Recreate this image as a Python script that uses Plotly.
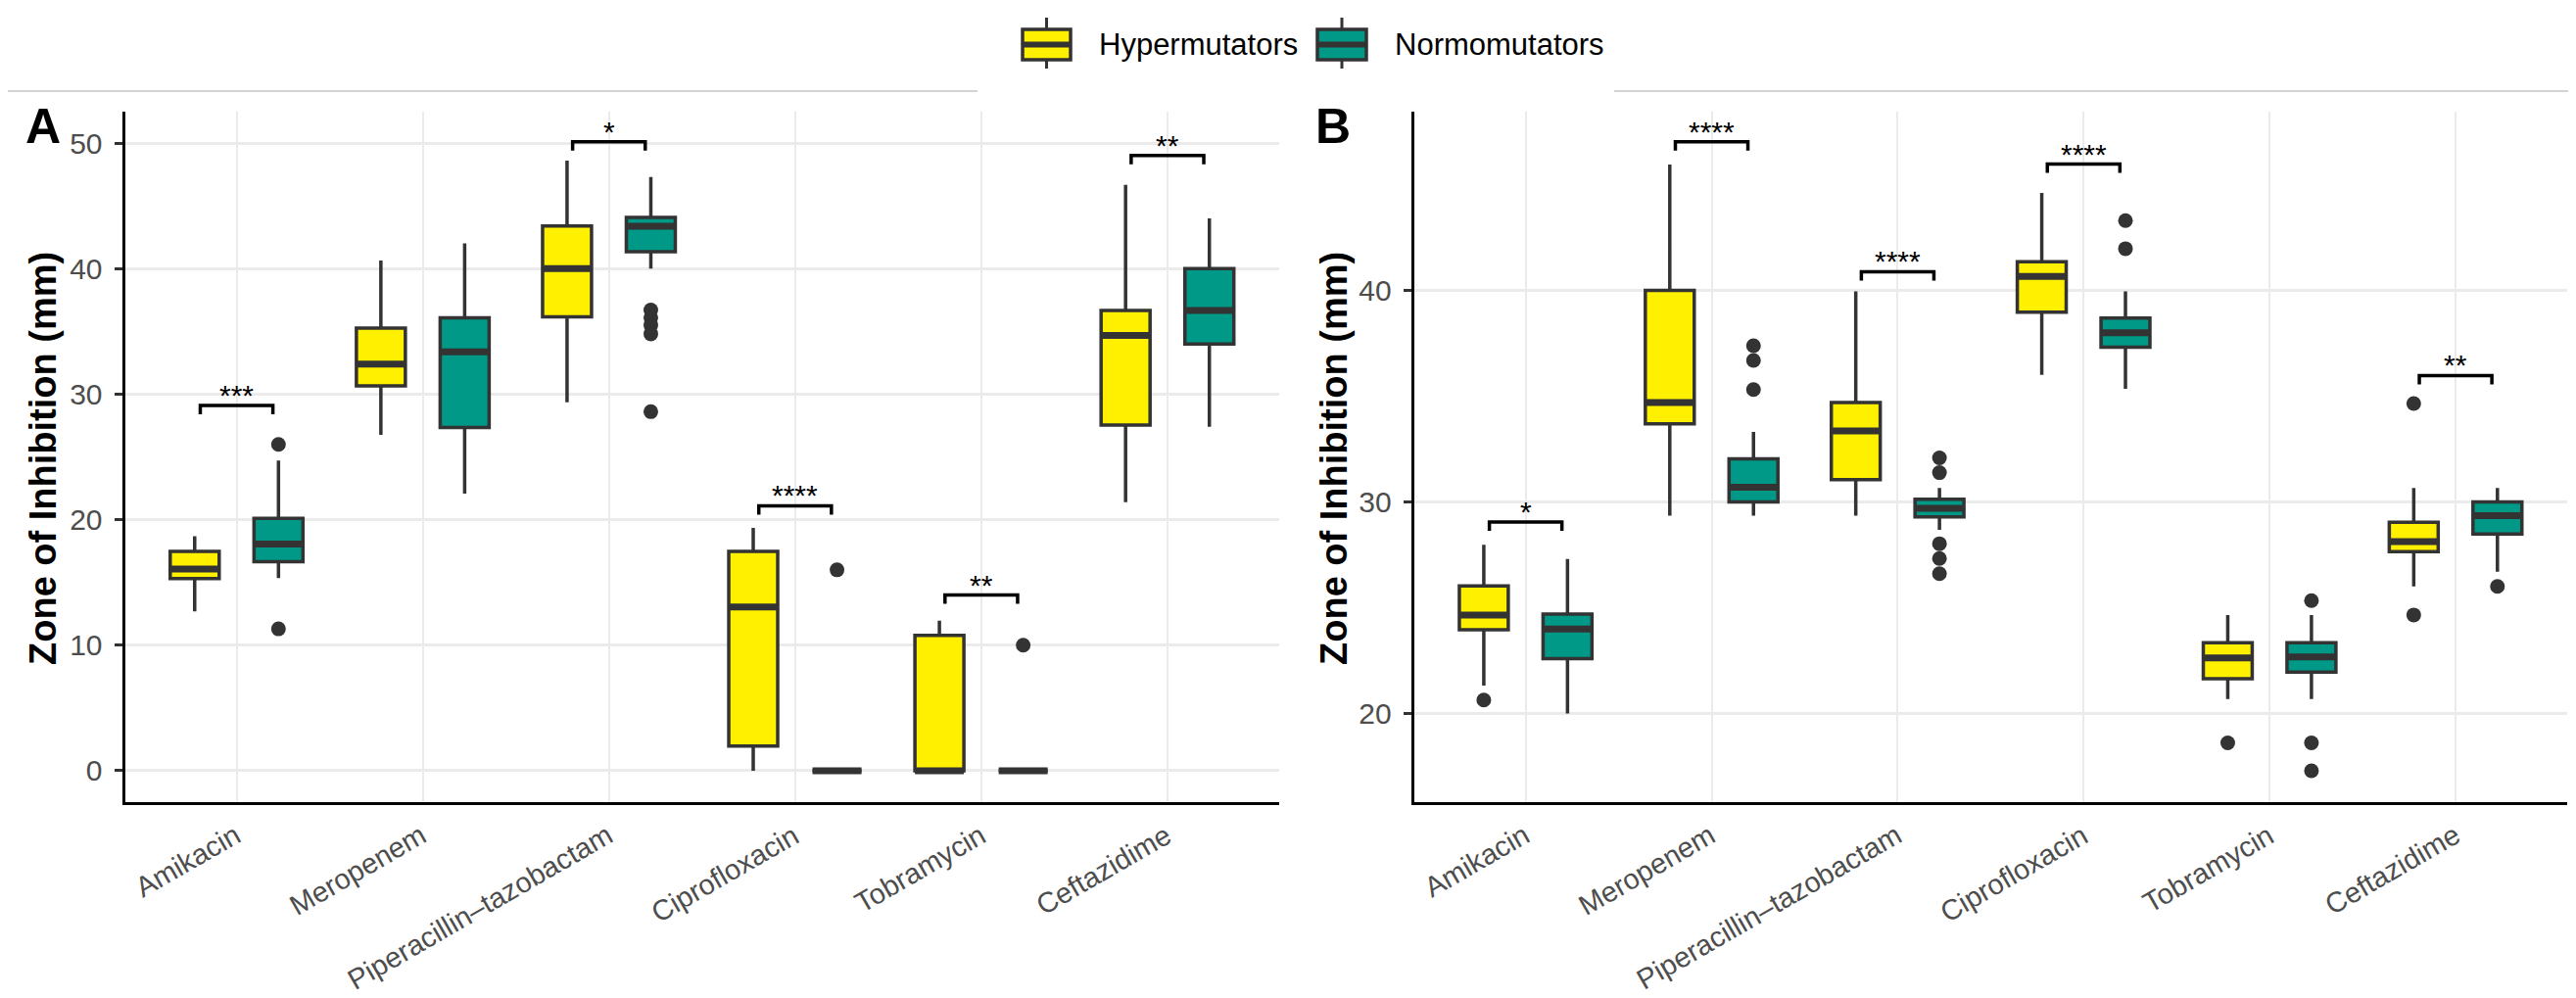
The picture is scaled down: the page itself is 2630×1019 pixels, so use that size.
import plotly.graph_objects as go

# ---------------- data ----------------
categories = ["Amikacin", "Meropenem", "Piperacillin–tazobactam",
              "Ciprofloxacin", "Tobramycin", "Ceftazidime"]
groups = ["Hypermutators", "Normomutators"]

# Panel A (box statistics per drug)
a_hyper_low = [12.7, 26.75, 29.34, 0.0, 0.0, 21.4]
a_hyper_q1 = [15.3, 30.66, 36.16, 1.97, 0.0, 27.53]
a_hyper_med = [16.07, 32.4, 40.0, 13.04, 0.0, 34.68]
a_hyper_q3 = [17.47, 35.25, 43.4, 17.47, 10.78, 36.67]
a_hyper_up = [18.68, 40.64, 48.6, 19.35, 11.96, 46.66]
a_hyper_out = [[], [], [], [], [], []]

a_normo_low = [15.35, 22.07, 40.0, 0.0, 0.0, 27.4]
a_normo_q1 = [16.66, 27.35, 41.35, 0.0, 0.0, 34.0]
a_normo_med = [18.06, 33.36, 43.37, 0.0, 0.0, 36.67]
a_normo_q3 = [20.1, 36.08, 44.07, 0.0, 0.0, 40.0]
a_normo_up = [24.7, 42.0, 47.3, 0.0, 0.0, 44.0]
a_normo_out = [[26.0, 11.3], [], [36.7, 36.1, 35.5, 34.8, 28.6], [16.0], [10.0], []]

a_sig_labels = ["***", "", "*", "****", "**", "**"]
a_sig_y = [29.1, None, 50.1, 21.1, 14.0, 49.0]

# Panel B
b_hyper_low = [21.31, 29.35, 29.35, 36.0, 20.68, 26.0]
b_hyper_q1 = [23.95, 33.69, 31.05, 38.97, 21.63, 27.65]
b_hyper_med = [24.65, 34.69, 33.35, 40.66, 22.62, 28.12]
b_hyper_q3 = [26.02, 40.0, 34.69, 41.35, 23.34, 29.03]
b_hyper_up = [27.97, 45.95, 39.95, 44.61, 24.65, 30.65]
b_hyper_out = [[20.63], [], [], [], [18.6], [34.65, 24.65]]

b_normo_low = [19.99, 29.35, 28.68, 35.34, 20.68, 26.69]
b_normo_q1 = [22.59, 30.0, 29.29, 37.31, 21.95, 28.48]
b_normo_med = [23.98, 30.69, 29.69, 38.0, 22.67, 29.35]
b_normo_q3 = [24.69, 32.03, 30.12, 38.69, 23.34, 30.0]
b_normo_up = [27.3, 33.31, 30.65, 39.95, 24.65, 30.65]
b_normo_out = [[], [37.38, 36.69, 35.31], [32.08, 31.38, 28.02, 27.32, 26.6],
               [43.3, 41.97], [25.33, 18.6, 17.28], [26.0]]

b_sig_labels = ["*", "****", "****", "****", "", "**"]
b_sig_y = [29.05, 47.03, 40.88, 45.97, None, 35.97]

a_yticks = [0, 10, 20, 30, 40, 50]
b_yticks = [20, 30, 40]

# ---------------- style ----------------
W, H = 2630, 1019
FONT = "Liberation Sans, Arial, Helvetica, sans-serif"
COL = {"Hypermutators": "#FFF000", "Normomutators": "#009886"}
EDGE = "#333333"
DODGE = 0.225
BOXW = 0.263
BRACKET_HALF = 0.195
XLAB_ANGLE = -30

pos = [i + 1 for i in range(len(categories))]


def px(x):
    return x / W


def py(y):
    return 1 - y / H


fig = go.Figure()
shapes = []
annotations = []

panels = [
    dict(xa="x", ya="y", xref="x", yref="y",
         stats={"Hypermutators": (a_hyper_low, a_hyper_q1, a_hyper_med, a_hyper_q3, a_hyper_up, a_hyper_out),
                "Normomutators": (a_normo_low, a_normo_q1, a_normo_med, a_normo_q3, a_normo_up, a_normo_out)},
         sig=(a_sig_labels, a_sig_y), tick=0.7),
    dict(xa="x2", ya="y2", xref="x2", yref="y2",
         stats={"Hypermutators": (b_hyper_low, b_hyper_q1, b_hyper_med, b_hyper_q3, b_hyper_up, b_hyper_out),
                "Normomutators": (b_normo_low, b_normo_q1, b_normo_med, b_normo_q3, b_normo_up, b_normo_out)},
         sig=(b_sig_labels, b_sig_y), tick=0.42),
]

AXIS_BOTTOM = 811

for p in panels:
    for gi, g in enumerate(groups):
        low, q1, med, q3, up, outs = p["stats"][g]
        off = -DODGE if gi == 0 else DODGE
        xs = [c + off for c in pos]
        fig.add_trace(go.Box(
            x=xs, q1=q1, median=med, q3=q3, lowerfence=low, upperfence=up,
            width=BOXW, fillcolor=COL[g], line=dict(color=EDGE, width=3.5),
            whiskerwidth=0, boxpoints=False, name=g, showlegend=False,
            xaxis=p["xa"], yaxis=p["ya"], hoverinfo="skip"))
        # thick median bars
        for x, m in zip(xs, med):
            shapes.append(dict(type="line", xref=p["xref"], yref=p["yref"],
                               x0=x - BOXW / 2, x1=x + BOXW / 2, y0=m, y1=m,
                               line=dict(color=EDGE, width=7), layer="above"))
        ox, oy = [], []
        for x, vals in zip(xs, outs):
            for v in vals:
                ox.append(x)
                oy.append(v)
        fig.add_trace(go.Scatter(
            x=ox, y=oy, mode="markers", showlegend=False,
            marker=dict(size=15, color=EDGE), xaxis=p["xa"], yaxis=p["ya"],
            hoverinfo="skip"))
    labels, ys = p["sig"]
    for c, lab, yv in zip(pos, labels, ys):
        if not lab:
            continue
        x0, x1 = c - BRACKET_HALF, c + BRACKET_HALF
        t = p["tick"]
        shapes.append(dict(type="path", xref=p["xref"], yref=p["yref"],
                           path=f"M {x0},{yv - t} L {x0},{yv} L {x1},{yv} L {x1},{yv - t}",
                           line=dict(color="black", width=3.5)))
        annotations.append(dict(x=c, y=yv, xref=p["xref"], yref=p["yref"],
                                text=lab, showarrow=False, yanchor="bottom",
                                yshift=-8, font=dict(family=FONT, size=30, color="black")))
    # category labels under the x axis (rotated, right end at the category)
    for c, name in zip(pos, categories):
        annotations.append(dict(x=c, y=py(AXIS_BOTTOM), xref=p["xref"], yref="paper",
                                text=name, showarrow=False, textangle=XLAB_ANGLE,
                                xanchor="right", yanchor="top", xshift=12, yshift=-14,
                                font=dict(family=FONT, size=29, color="#4d4d4d")))

# ---------------- axes ----------------
ydom = [py(AXIS_BOTTOM), py(106)]
xcommon = dict(range=[0.4, 6.6], tickmode="array", tickvals=pos, ticktext=categories,
               showticklabels=False, automargin=False, showgrid=True, gridcolor="#ebebeb",
               gridwidth=2, zeroline=False, showline=True, linecolor="black", linewidth=3,
               ticks="")
ycommon = dict(showgrid=True, gridcolor="#ebebeb", gridwidth=2.5, zeroline=False,
               automargin=False,
               showline=True, linecolor="black", linewidth=3, ticks="outside",
               ticklen=8, tickwidth=3, tickcolor=EDGE, ticklabelstandoff=6,
               tickfont=dict(family=FONT, size=30, color="#4d4d4d"))

fig.update_layout(
    width=W, height=H, margin=dict(l=0, r=0, t=0, b=0),
    paper_bgcolor="white", plot_bgcolor="white", boxmode="overlay",
    xaxis=dict(domain=[px(119.5), px(1298)], anchor="y", **xcommon),
    yaxis=dict(domain=ydom, anchor="x", range=[-2.5, 52.5], tickvals=a_yticks, **ycommon),
    xaxis2=dict(domain=[px(1435.7), px(2613)], anchor="y2", **xcommon),
    yaxis2=dict(domain=ydom, anchor="x2", range=[15.8, 48.45], tickvals=b_yticks, **ycommon),
)

# y-axis titles and panel tags
for xc in (36, 1354):
    annotations.append(dict(x=px(xc), y=py(460), xref="paper", yref="paper",
                            text="<b>Zone of Inhibition (mm)</b>", textangle=-90,
                            showarrow=False, xanchor="center", yanchor="middle",
                            font=dict(family=FONT, size=38, color="black")))
for tag, xc in (("A", 36), ("B", 1353)):
    annotations.append(dict(x=px(xc), y=py(121), xref="paper", yref="paper",
                            text=f"<b>{tag}</b>", showarrow=False,
                            xanchor="center", yanchor="middle",
                            font=dict(family=FONT, size=50, color="black")))

# top separator line (broken by the legend box)
for xa, xb in ((0, 990), (1640, W)):
    shapes.append(dict(type="line", xref="paper", yref="paper",
                       x0=px(xa), x1=px(xb), y0=py(85), y1=py(85),
                       line=dict(color="#d3d3d3", width=2)))

# legend (drawn keys + real text)
legend_items = [("Hypermutators", 1036, 1085, 1112), ("Normomutators", 1337, 1387, 1414)]
for g, kx0, kx1, tx in legend_items:
    kc = (kx0 + kx1) / 2
    shapes.append(dict(type="line", xref="paper", yref="paper", x0=px(kc), x1=px(kc),
                       y0=py(10), y1=py(62), line=dict(color=EDGE, width=3)))
    shapes.append(dict(type="rect", xref="paper", yref="paper", x0=px(kx0), x1=px(kx1),
                       y0=py(22), y1=py(53), fillcolor=COL[g], line=dict(color=EDGE, width=3.5)))
    shapes.append(dict(type="line", xref="paper", yref="paper", x0=px(kx0), x1=px(kx1),
                       y0=py(37.5), y1=py(37.5), line=dict(color=EDGE, width=6)))
    annotations.append(dict(x=px(tx), y=py(37.5), xref="paper", yref="paper", text=g,
                            showarrow=False, xanchor="left", yanchor="middle",
                            font=dict(family=FONT, size=31, color="black")))

fig.update_layout(shapes=shapes, annotations=annotations)
fig.write_html("out.html")
